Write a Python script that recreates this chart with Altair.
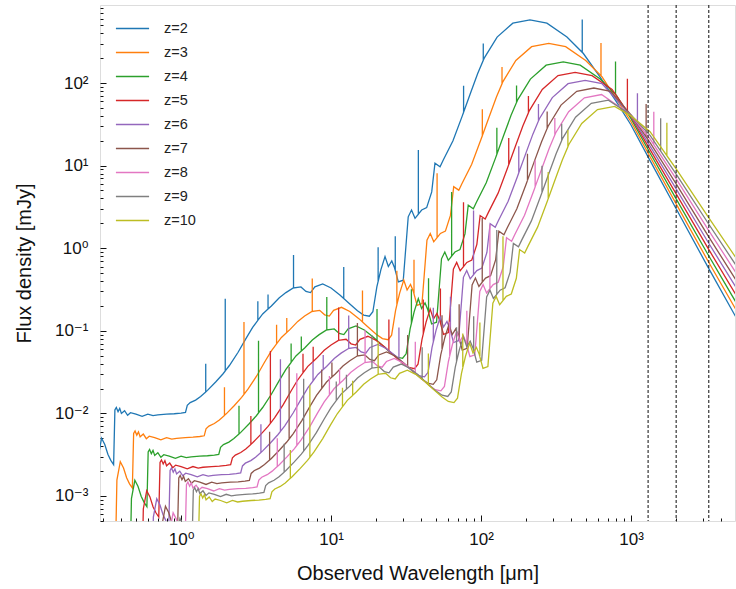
import altair as alt
import numpy as np
import pandas as pd

# ---------------- data ----------------
redshifts = [2, 3, 4, 5, 6, 7, 8, 9, 10]
labels = [f"z={z}" for z in redshifts]
colors = ["#1f77b4", "#ff7f0e", "#2ca02c", "#d62728", "#9467bd",
          "#8c564b", "#e377c2", "#7f7f7f", "#bcbd22"]

# wavelength stretch of each curve relative to the z=2 curve, and flux scale
stretch = [1.0, 1.3333, 1.6667, 2.0, 2.3333, 2.6667, 3.0, 3.3333, 3.6667]
flux_scale = [1.0, 0.52, 0.31, 0.232, 0.185, 0.15, 0.125, 0.107, 0.09]

# z=2 continuum (observed wavelength in micron, flux in mJy)
tpl_wl = [0.270, 0.280, 0.295, 0.31, 0.325, 0.34, 0.355, 0.362, 0.37, 0.38,
          0.39, 0.40, 0.42, 0.44, 0.46, 0.50, 0.55, 0.60, 0.65, 0.70,
          0.80, 0.90, 1.00, 1.07, 1.10, 1.15, 1.25, 1.35, 1.50, 1.70,
          1.90, 2.1, 2.4, 2.7, 3.0, 3.5, 4.0, 4.5, 5.0, 5.6,
          6.3, 6.8, 7.3, 7.8, 8.8, 10, 11.5, 13, 15, 16.5,
          18, 19, 20.2, 21.5, 22.9, 24.1, 25.4, 26.5, 28.1, 30.3,
          32.7, 34.4, 36.3, 40.2, 43.4, 46.9, 49.3, 53.3, 56, 65,
          75, 85, 95, 105, 128, 163, 212, 275, 374, 480, 621, 810]
tpl_flux = [0.0001, 0.0030, 0.0050, 0.0042, 0.0032, 0.0027, 0.0024, 0.0110, 0.0118, 0.0105,
            0.0115, 0.0100, 0.0108, 0.0095, 0.0102, 0.0098, 0.0092, 0.0098, 0.0094, 0.0096,
            0.0098, 0.0099, 0.0101, 0.0103, 0.0125, 0.0135, 0.0145, 0.016, 0.019, 0.024,
            0.030, 0.038, 0.055, 0.080, 0.11, 0.16, 0.20, 0.25, 0.29, 0.33,
            0.34, 0.30, 0.29, 0.34, 0.37, 0.33, 0.27, 0.22, 0.175, 0.155,
            0.15, 0.17, 0.34, 0.55, 0.79, 0.60, 0.70, 0.58, 0.39, 0.41,
            2.4, 2.9, 2.3, 2.9, 3.1, 4.8, 10.7, 9.7, 11.7, 20,
            40, 75, 130, 200, 360, 530, 580, 530, 360, 229, 119, 57]

# emission-line spikes on the z=2 curve: position and height relative to the curve
spike_wl = [1.46, 1.97, 3.25, 3.80, 5.62, 12.15, 20.6, 26.8, 38.2, 76.5, 103.5, 473]
spike_ratio = [2.2, 7.5, 1.7, 1.5, 2.5, 2.4, 2.6, 2.6, 6.0, 2.1, 1.6, 2.5]

# millimetre tail of each curve
tail_wl = [1000, 1340, 2000, 3260, 5000]
tail_flux = [
    [31, 11.5, 3.00, 0.59, 0.147],
    [34, 12.8, 3.44, 0.70, 0.181],
    [37, 14.2, 3.95, 0.84, 0.223],
    [39, 15.6, 4.54, 1.00, 0.274],
    [40, 17.2, 5.22, 1.19, 0.337],
    [41, 19.0, 6.00, 1.42, 0.414],
    [41, 21.0, 6.89, 1.69, 0.508],
    [41, 23.2, 7.91, 2.02, 0.626],
    [40, 25.7, 9.10, 2.41, 0.770],
]

band_wl = [1300, 2000, 3300]

# ---------------- build table ----------------
cut = 811
rows = []
for i, lab in enumerate(labels):
    s, f = stretch[i], flux_scale[i]
    wl = [w * s for w in tpl_wl if w * s <= cut]
    fl = [v * f for w, v in zip(tpl_wl, tpl_flux) if w * s <= cut]
    wl += tail_wl
    fl += tail_flux[i]
    lw, lf = np.log10(wl), np.log10(fl)
    pts = [(w, v, 0) for w, v in zip(wl, fl)]
    for sw, sr in zip(spike_wl, spike_ratio):
        x = sw * s
        base = 10 ** np.interp(np.log10(x), lw, lf)
        pts += [(x, base, 1), (x, base * sr, 2), (x, base, 3)]
    pts.sort(key=lambda p: (p[0], p[2]))
    for k, (w, v, _) in enumerate(pts):
        rows.append({"wl": w, "flux": v, "z": lab, "idx": k})
df = pd.DataFrame(rows)
bands = pd.DataFrame({"wl": band_wl})

# ---------------- chart ----------------
W, H = 635, 516
xdom = [0.288, 4936]
ydom = [4.98e-4, 880]
xscale = alt.Scale(type="log", domain=xdom, nice=False)
yscale = alt.Scale(type="log", domain=ydom, nice=False)

x_major = [1, 10, 100, 1000]
y_major = [1e-3, 1e-2, 1e-1, 1, 10, 100]
x_ticks = [k * 10.0 ** n for n in range(-1, 4) for k in range(1, 10)
           if xdom[0] <= k * 10.0 ** n <= xdom[1]]
y_ticks = [k * 10.0 ** n for n in range(-4, 3) for k in range(1, 10)
           if ydom[0] <= k * 10.0 ** n <= ydom[1]]

major_test = "abs(log(datum.value)/LN10 - round(log(datum.value)/LN10)) < 0.001"
tick_size = {"condition": {"test": major_test, "value": 6}, "value": 3}

font = "Liberation Sans, Arial, DejaVu Sans, sans-serif"

lines = alt.Chart(df).mark_line(strokeWidth=1.3, clip=True).encode(
    x=alt.X("wl:Q", scale=xscale,
            axis=alt.Axis(values=x_major, ticks=False, domain=False, grid=False,
                          labelExpr="['10⁻¹','10⁰','10¹','10²','10³'][round(log(datum.value)/LN10)+1]",
                          labelFontSize=17, labelPadding=10, labelColor="#111",
                          title="Observed Wavelength [μm]", titleFontSize=20,
                          titleFontWeight="normal", titlePadding=16, titleColor="#111")),
    y=alt.Y("flux:Q", scale=yscale,
            axis=alt.Axis(values=y_major, ticks=False, domain=False, grid=False,
                          labelExpr="['10⁻³','10⁻²','10⁻¹','10⁰','10¹','10²','10³'][round(log(datum.value)/LN10)+3]",
                          labelFontSize=17, labelPadding=12, labelColor="#111",
                          title="Flux density [mJy]", titleFontSize=20,
                          titleFontWeight="normal", titlePadding=20, titleColor="#111")),
    color=alt.Color("z:N", sort=labels,
                    scale=alt.Scale(domain=labels, range=colors),
                    legend=alt.Legend(title=None, orient="none", legendX=15, legendY=6,
                                      symbolType="stroke", symbolSize=1100,
                                      symbolStrokeWidth=1.6, labelFontSize=14.5,
                                      labelColor="#222", rowPadding=0, padding=0,
                                      labelOffset=14)),
    detail="z:N",
    order=alt.Order("idx:Q"),
)

rules = alt.Chart(bands).mark_rule(color="#222", strokeWidth=1.1,
                                   strokeDash=[3, 2], clip=True).encode(
    x=alt.X("wl:Q", scale=xscale, axis=None),
)

ticks = alt.Chart(df).mark_point(opacity=0, size=1, clip=True).encode(
    x=alt.X("wl:Q", scale=xscale,
            axis=alt.Axis(orient="top", offset=-H, values=x_ticks, labels=False,
                          domain=False, grid=False, title=None, tickColor="#111",
                          tickWidth=1, tickSize=tick_size)),
    y=alt.Y("flux:Q", scale=yscale,
            axis=alt.Axis(orient="right", offset=-W, values=y_ticks, labels=False,
                          domain=False, grid=False, title=None, tickColor="#111",
                          tickWidth=1, tickSize=tick_size)),
)

chart = alt.layer(lines, rules, ticks).resolve_axis(
    x="independent", y="independent"
).properties(
    width=W, height=H,
    autosize=alt.AutoSizeParams(type="none"),
    padding={"left": 100, "top": 5, "right": 1, "bottom": 68},
).configure_view(
    stroke="#222", strokeWidth=1.3
).configure(
    font=font
).configure_legend(
    labelFont=font
)

chart.save("out.html", embed_options={"renderer": "svg", "actions": False})
